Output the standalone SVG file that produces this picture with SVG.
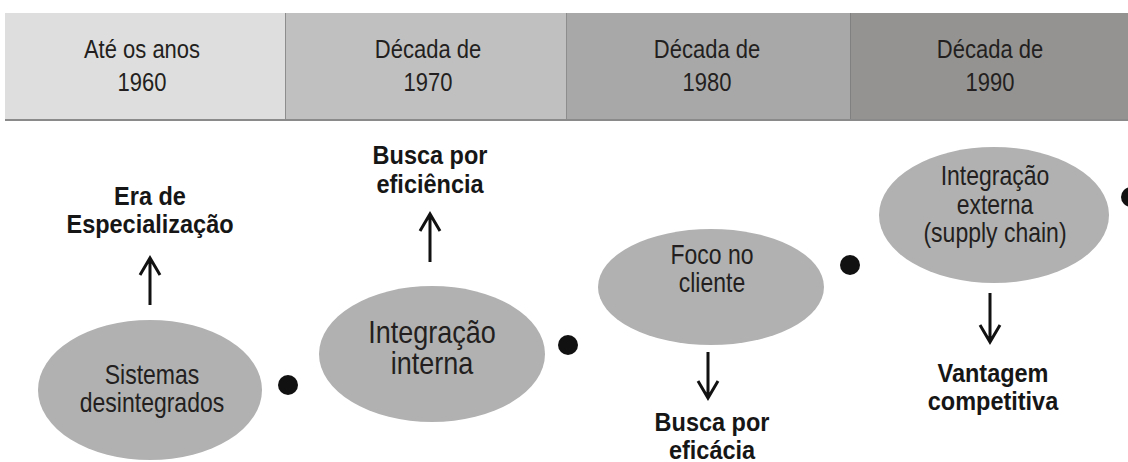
<svg xmlns="http://www.w3.org/2000/svg" width="1128" height="462" viewBox="0 0 1128 462">
<defs>
<style>
.hd{font-family:"Liberation Sans",Arial,sans-serif;font-size:22px;fill:#231f20;text-anchor:middle}
.el{fill:#b1b1b1}
.et{font-family:"Liberation Sans",Arial,sans-serif;font-size:23px;fill:#231f20;text-anchor:middle}
.lb{font-family:"Liberation Sans",Arial,sans-serif;font-size:23.5px;font-weight:bold;fill:#161616;text-anchor:middle}
.dot{fill:#111}
.ar{stroke:#111;stroke-width:3;fill:none;stroke-linecap:butt;stroke-linejoin:miter}
</style>
</defs>
<rect width="1128" height="462" fill="#fff"/>
<g id="header">
<rect x="5" y="13" width="280" height="107" fill="#dedede"/>
<rect x="285" y="13" width="281" height="107" fill="#c0c0c0"/>
<rect x="566" y="13" width="284" height="107" fill="#a8a8a8"/>
<rect x="850" y="13" width="278" height="107" fill="#949391"/>
<line x1="285.5" y1="13" x2="285.5" y2="120" stroke="#8d8d8d" stroke-width="1"/>
<line x1="566.5" y1="13" x2="566.5" y2="120" stroke="#8d8d8d" stroke-width="1"/>
<line x1="850.5" y1="13" x2="850.5" y2="120" stroke="#808080" stroke-width="1"/>
<line x1="5" y1="120" x2="1128" y2="120" stroke="#8a8a8a" stroke-width="2"/>
<text class="hd" transform="translate(142,58) scale(1,1.18)">Até os anos</text>
<text class="hd" transform="translate(142,91) scale(1,1.18)">1960</text>
<text class="hd" transform="translate(428,58) scale(1,1.18)">Década de</text>
<text class="hd" transform="translate(428,91) scale(1,1.18)">1970</text>
<text class="hd" transform="translate(707,58) scale(1,1.18)">Década de</text>
<text class="hd" transform="translate(707,91) scale(1,1.18)">1980</text>
<text class="hd" transform="translate(990,58) scale(1,1.18)">Década de</text>
<text class="hd" transform="translate(990,91) scale(1,1.18)">1990</text>
</g>
<g id="node1">
<ellipse class="el" cx="150" cy="390" rx="112" ry="70"/>
<text class="et" transform="translate(152,384) scale(1,1.2)">Sistemas</text>
<text class="et" transform="translate(152,412) scale(1,1.2)">desintegrados</text>
</g>
<g id="node2">
<ellipse class="el" cx="432" cy="354" rx="113" ry="68"/>
<text class="et" transform="translate(432,343) scale(1,1.15)" style="font-size:27px">Integração</text>
<text class="et" transform="translate(432,374) scale(1,1.15)" style="font-size:27px">interna</text>
</g>
<g id="node3">
<ellipse class="el" cx="711" cy="287" rx="113" ry="58"/>
<text class="et" transform="translate(712,264) scale(1,1.2)">Foco no</text>
<text class="et" transform="translate(712,292) scale(1,1.2)">cliente</text>
</g>
<g id="node4">
<ellipse class="el" cx="994" cy="215" rx="115" ry="68"/>
<text class="et" transform="translate(995,185) scale(1,1.2)">Integração</text>
<text class="et" transform="translate(995,214) scale(1,1.2)">externa</text>
<text class="et" transform="translate(995,242) scale(1,1.2)">(supply chain)</text>
</g>
<g id="label1">
<text class="lb" transform="translate(150,205) scale(1,1.08)">Era de</text>
<text class="lb" transform="translate(150,233) scale(1,1.08)">Especialização</text>
</g>
<g id="label2">
<text class="lb" transform="translate(430,164) scale(1,1.08)">Busca por</text>
<text class="lb" transform="translate(430,193) scale(1,1.08)">eficiência</text>
</g>
<g id="label3">
<text class="lb" transform="translate(712,431) scale(1,1.08)">Busca por</text>
<text class="lb" transform="translate(712,459) scale(1,1.08)">eficácia</text>
</g>
<g id="label4">
<text class="lb" transform="translate(993,382) scale(1,1.08)">Vantagem</text>
<text class="lb" transform="translate(993,410) scale(1,1.08)">competitiva</text>
</g>
<g id="connectors">
<circle class="dot" cx="288" cy="385" r="10"/>
<circle class="dot" cx="568" cy="345" r="10"/>
<circle class="dot" cx="850" cy="265" r="10"/>
<circle class="dot" cx="1131" cy="197" r="10"/>
<path class="ar" d="M150 305 V258 M140 275 L150 258 L160 275"/>
<path class="ar" d="M430 262 V214 M420 231 L430 214 L440 231"/>
<path class="ar" d="M708 352 V398 M698 381 L708 398 L718 381"/>
<path class="ar" d="M990 293 V342 M980 325 L990 342 L1000 325"/>
</g>
</svg>
